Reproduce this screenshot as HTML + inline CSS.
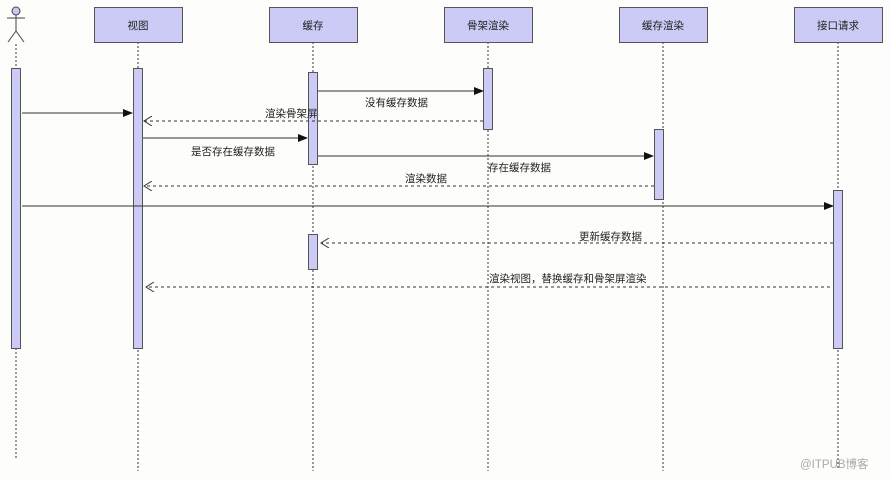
<!DOCTYPE html>
<html><head><meta charset="utf-8"><style>
html,body{margin:0;padding:0;background:#fdfdfb;}
svg{display:block;}
text{font-family:"Liberation Sans","Noto Sans CJK SC",sans-serif;font-size:10.5px;fill:#222;}
</style></head><body>
<svg width="890" height="479" viewBox="0 0 890 479" xmlns="http://www.w3.org/2000/svg">
<defs>
<marker id="fa" markerWidth="10" markerHeight="8" refX="9" refY="4" orient="auto" markerUnits="userSpaceOnUse"><path d="M0,0 L10,4 L0,8 Z" fill="#111"/></marker>
<marker id="oa" markerWidth="10" markerHeight="10" refX="9" refY="5" orient="auto" markerUnits="userSpaceOnUse"><path d="M1,0 L9,5 L1,10" fill="none" stroke="#333" stroke-width="1"/></marker>
</defs>
<rect width="890" height="479" fill="#fdfdfb"/>
<!-- lifelines -->
<g stroke="#333" stroke-width="1" stroke-dasharray="2,2">
<line x1="16" y1="44" x2="16" y2="460"/>
<line x1="138" y1="42" x2="138" y2="471"/>
<line x1="313" y1="42" x2="313" y2="471"/>
<line x1="488" y1="42" x2="488" y2="471"/>
<line x1="663" y1="42" x2="663" y2="471"/>
<line x1="838" y1="42" x2="838" y2="470"/>
</g>
<!-- actor -->
<g stroke="#444" stroke-width="1" fill="none">
<circle cx="16" cy="11" r="4" fill="#c8c8f4"/>
<line x1="16" y1="15" x2="16" y2="31"/>
<line x1="7" y1="18" x2="25" y2="18"/>
<line x1="16" y1="31" x2="8" y2="42"/>
<line x1="16" y1="31" x2="24" y2="42"/>
</g>
<!-- header boxes -->
<g fill="#cbcbf5" stroke="#555" stroke-width="1">
<rect x="94.5" y="7.5" width="88" height="35"/>
<rect x="269.5" y="7.5" width="88" height="35"/>
<rect x="444.5" y="7.5" width="88" height="35"/>
<rect x="619.5" y="7.5" width="88" height="35"/>
<rect x="794.5" y="7.5" width="88" height="35"/>
</g>
<g text-anchor="middle">
<text x="138" y="29">视图</text>
<text x="313" y="29">缓存</text>
<text x="488" y="29">骨架渲染</text>
<text x="663" y="29">缓存渲染</text>
<text x="838" y="29">接口请求</text>
</g>
<!-- activation bars -->
<g fill="#cbcbf5" stroke="#555" stroke-width="1">
<rect x="11.5" y="68.5" width="9" height="280"/>
<rect x="133.5" y="68.5" width="9" height="280"/>
<rect x="308.5" y="72.5" width="9" height="92"/>
<rect x="483.5" y="68.5" width="9" height="61"/>
<rect x="654.5" y="129.5" width="9" height="70"/>
<rect x="833.5" y="190.5" width="9" height="158"/>
<rect x="308.5" y="234.5" width="9" height="35"/>
</g>
<!-- solid messages -->
<g stroke="#333" stroke-width="1" fill="none">
<line x1="22" y1="113" x2="132" y2="113" marker-end="url(#fa)"/>
<line x1="318" y1="91" x2="483" y2="91" marker-end="url(#fa)"/>
<line x1="143" y1="138" x2="307" y2="138" marker-end="url(#fa)"/>
<line x1="318" y1="156" x2="653" y2="156" marker-end="url(#fa)"/>
<line x1="22" y1="206" x2="833" y2="206" marker-end="url(#fa)"/>
</g>
<!-- dashed returns -->
<g stroke="#333" stroke-width="1" fill="none" stroke-dasharray="3,3">
<line x1="483" y1="121" x2="144" y2="121" marker-end="url(#oa)"/>
<line x1="654" y1="186" x2="144" y2="186" marker-end="url(#oa)"/>
<line x1="833" y1="243" x2="321" y2="243" marker-end="url(#oa)"/>
<line x1="830" y1="287" x2="146" y2="287" marker-end="url(#oa)"/>
</g>
<!-- labels -->
<text x="365" y="106">没有缓存数据</text>
<text x="265" y="117">渲染骨架屏</text>
<text x="191" y="155">是否存在缓存数据</text>
<text x="488" y="171">存在缓存数据</text>
<text x="405" y="182">渲染数据</text>
<text x="579" y="240">更新缓存数据</text>
<text x="489" y="282">渲染视图，替换缓存和骨架屏渲染</text>
<text x="800" y="468" style="fill:#aaa;font-size:11.5px">@ITPUB博客</text>
</svg>
</body></html>
